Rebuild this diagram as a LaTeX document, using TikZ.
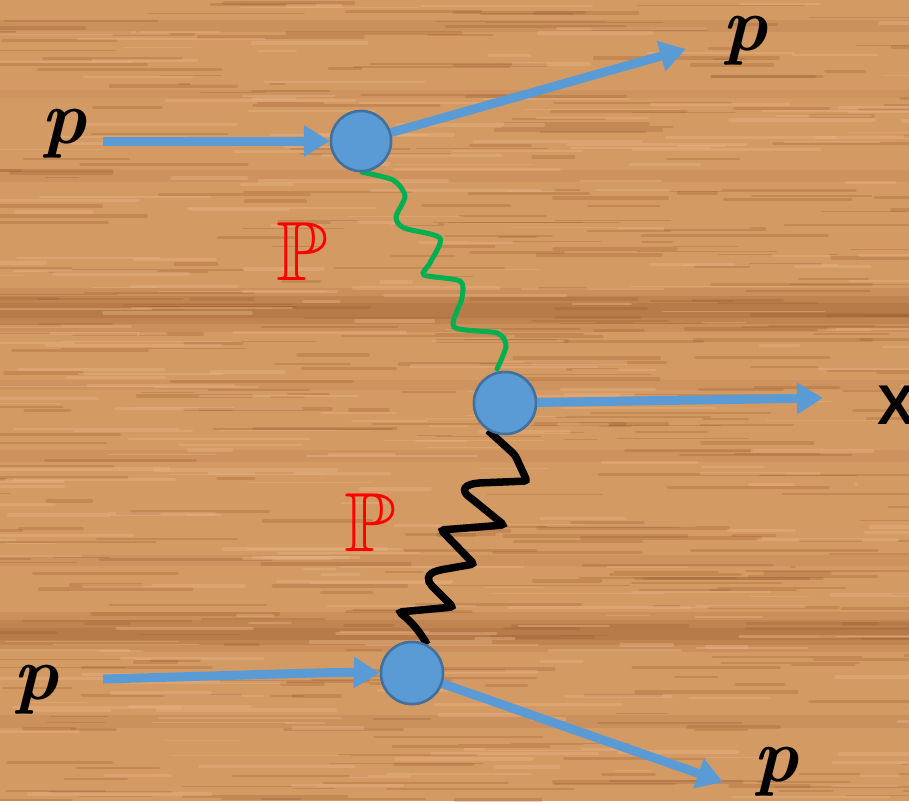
\documentclass[tikz,border=0pt]{standalone}
\usepackage{amssymb}
\usepackage{fontspec}
\usetikzlibrary{arrows.meta}
\newfontfamily\xfont{Liberation Sans Bold}
\definecolor{wood}{HTML}{D49A64}
\definecolor{woodlight}{HTML}{E6B283}
\definecolor{wooddark}{HTML}{9E5F32}
\definecolor{vblue}{HTML}{5B9BD5}
\definecolor{vedge}{HTML}{41719C}
\definecolor{pgreen}{HTML}{00B050}
\tikzset{
  vertex/.style={circle, fill=vblue, draw=vedge, line width=2.5pt, minimum size=60pt, inner sep=0pt},
  proton/.style={draw=vblue, line width=9pt, -{Triangle[length=26pt,width=30pt]}},
  plabel/.style={inner sep=0pt, font=\fontsize{76}{76}\selectfont\bfseries\itshape},
  pomlabel/.style={inner sep=0pt, text=red, font=\fontsize{84}{84}\selectfont},
  xlabel/.style={inner sep=0pt, anchor=west, font=\fontsize{56}{56}\selectfont\xfont},
  greenwave/.style={draw=pgreen, line width=5pt, line cap=round},
  blackwave/.style={draw=black, line width=7.5pt, line join=miter},
  streakd/.style={wooddark, line cap=round},
  streakl/.style={woodlight, line cap=round}
}
\begin{document}
\begin{tikzpicture}[x=1pt,y=-1pt]
\useasboundingbox (0,0) rectangle (909,801);
\clip (0,0) rectangle (909,801);
% wood background
\fill[wood] (0,0) rectangle (909,801);
\foreach \ya/\yb/\op in {288/332/0.18, 296/324/0.22, 303/318/0.25, 612/652/0.18, 620/645/0.22, 628/640/0.25, 20/32/0.15, 170/182/0.12, 450/462/0.12, 555/566/0.12, 715/728/0.15, 90/98/0.1, 380/390/0.1}{
  \fill[wooddark, opacity=\op] (0,\ya) rectangle (909,\yb);
}
\pgfmathsetseed{42}
\foreach \i in {1,...,420}{
  \pgfmathsetmacro{\sx}{rnd*980-60}
  \pgfmathsetmacro{\sy}{rnd*801}
  \pgfmathsetmacro{\sl}{30+rnd*160}
  \pgfmathsetmacro{\sw}{1+rnd*3}
  \draw[streakd, opacity=0.3, line width=\sw pt] (\sx,\sy) -- ++(\sl,0);
}
\foreach \i in {1,...,300}{
  \pgfmathsetmacro{\sx}{rnd*980-60}
  \pgfmathsetmacro{\sy}{rnd*801}
  \pgfmathsetmacro{\sl}{30+rnd*160}
  \pgfmathsetmacro{\sw}{1+rnd*3}
  \draw[streakl, opacity=0.45, line width=\sw pt] (\sx,\sy) -- ++(\sl,0);
}
% vertices
\path node[vertex] (A) at (361,141) {}
      node[vertex, minimum size=62pt] (B) at (505,403) {}
      node[vertex, minimum size=62pt] (C) at (412,673) {};
% end points
\coordinate (pin1) at (103,141);
\coordinate (pout1) at (686,49);
\coordinate (xout) at (823,398);
\coordinate (pin2) at (103,679);
\coordinate (pout2) at (723,782);
% labels
\node[plabel] (lp1) at (64,134) {p};
\node[plabel] (lp2) at (745,41) {p};
\node[plabel] (lp3) at (36,690) {p};
\node[plabel] (lp4) at (776,772) {p};
\node[xlabel] (lx) at (877,405) {X};
\node[pomlabel] (lP1) at (302,252) {$\mathbb{P}$};
\node[pomlabel] (lP2) at (370,523) {$\mathbb{P}$};
% wavy exchanges
\draw[greenwave] plot[smooth, tension=0.45] coordinates {(A.-88) (393,180) (405,196) (396,217) (404,228) (440,238) (430,263) (424,275) (460,281) (462,298) (454,327) (497,333) (506,346) (497,369)};
\draw[blackwave, rounded corners=3pt] (B.238) -- (515,455) -- (527,481) -- (478,483) .. controls (460,486) and (464,493) .. (472,499) -- (504,525) -- (441,530) -- (474,564) -- (440,570) .. controls (426,574) and (427,581) .. (434,588) -- (453,607) -- (399,612) .. controls (412,622) and (420,632) .. (C.62);
% proton lines
\draw[proton] (pin1) -- (A.west);
\draw[proton] (A) -- (pout1);
\draw[proton] (B) -- (xout);
\draw[proton] (pin2) .. controls (250,675) and (330,672) .. (C.west);
\draw[proton] (C) -- (pout2);
% redraw vertices on top
\path node[vertex] at (A) {}
      node[vertex, minimum size=62pt] at (B) {}
      node[vertex, minimum size=62pt] at (C) {};
\end{tikzpicture}
\end{document}
